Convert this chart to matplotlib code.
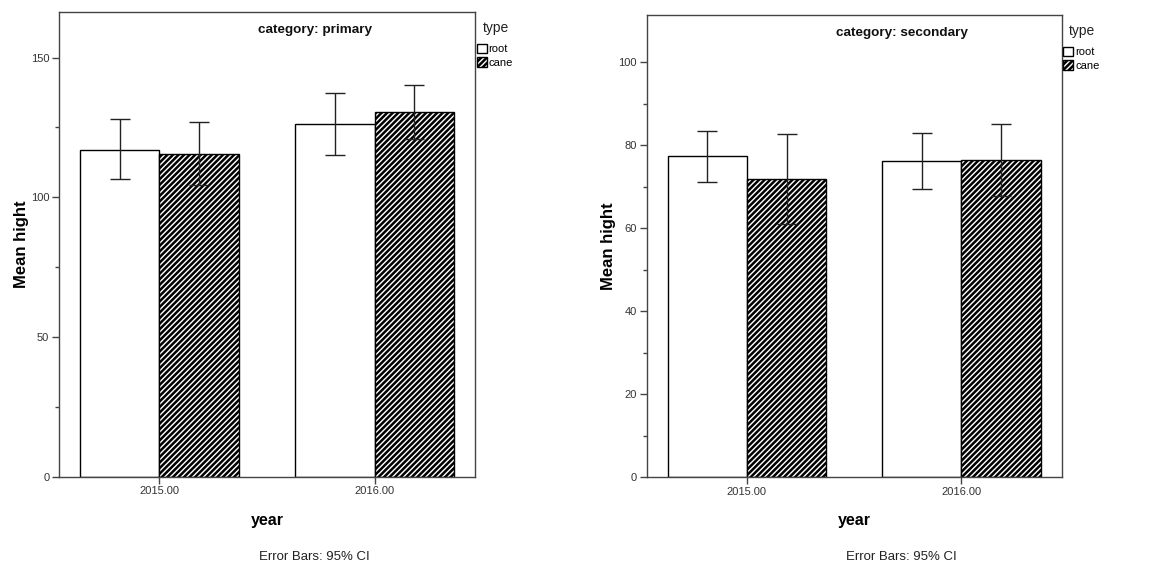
import matplotlib
matplotlib.use("Agg")
import matplotlib.pyplot as plt
import numpy as np

plt.rcParams['font.family'] = ['Liberation Sans', 'DejaVu Sans']
plt.rcParams['hatch.linewidth'] = 1.8
plt.rcParams['hatch.color'] = 'black'

years = ["2015.00", "2016.00"]
types = ["root", "cane"]
panels = ["primary", "secondary"]

# primary
primary_root = [117.0, 126.2]
primary_root_lo = [106.4, 115.1]
primary_root_hi = [127.9, 137.2]
primary_cane = [115.6, 130.6]
primary_cane_lo = [104.3, 120.9]
primary_cane_hi = [126.9, 140.3]

# secondary
secondary_root = [77.3, 76.1]
secondary_root_lo = [71.1, 69.5]
secondary_root_hi = [83.5, 82.9]
secondary_cane = [71.9, 76.4]
secondary_cane_lo = [61.1, 67.8]
secondary_cane_hi = [82.7, 85.1]

ylims = [166.3, 111.3]
major_ticks = [[0, 50, 100, 150], [0, 20, 40, 60, 80, 100]]
minor_ticks = [[25, 75, 125], [10, 30, 50, 70, 90]]

data = {
    "primary": (primary_root, primary_root_lo, primary_root_hi,
                primary_cane, primary_cane_lo, primary_cane_hi),
    "secondary": (secondary_root, secondary_root_lo, secondary_root_hi,
                  secondary_cane, secondary_cane_lo, secondary_cane_hi),
}

W, H = 1158, 565
fig = plt.figure(figsize=(W / 100, H / 100), dpi=100)

axes_px = [(59, 12, 475, 476.7), (646.7, 15.3, 1061.7, 477.3)]
year_x = [267, 854]
note_x = [314.5, 901.7]
spine_col = '#444444'
tick_col = '#333333'

for i, name in enumerate(panels):
    x0, y0, x1, y1 = axes_px[i]
    ax = fig.add_axes([x0 / W, 1 - y1 / H, (x1 - x0) / W, (y1 - y0) / H])
    r, rlo, rhi, c, clo, chi = data[name]
    x = np.arange(len(years))
    w = 0.37
    b1 = ax.bar(x - w / 2, r, w, color='white', edgecolor='black', linewidth=1.0, label=types[0], zorder=2)
    b2 = ax.bar(x + w / 2, c, w, color='white', edgecolor='black', linewidth=1.0, hatch='//////', label=types[1], zorder=2)
    r = np.array(r); c = np.array(c)
    ax.errorbar(x - w / 2, r, yerr=[r - np.array(rlo), np.array(rhi) - r], fmt='none',
                ecolor='#222222', elinewidth=1.0, capsize=7, capthick=1.0, zorder=3)
    ax.errorbar(x + w / 2, c, yerr=[c - np.array(clo), np.array(chi) - c], fmt='none',
                ecolor='#222222', elinewidth=1.0, capsize=7, capthick=1.0, zorder=3)
    ax.set_xlim(-0.467, 1.467)
    ax.set_ylim(0, ylims[i])
    ax.set_xticks(x)
    ax.set_xticklabels(years, fontsize=8, color=tick_col)
    ax.set_yticks(major_ticks[i])
    ax.set_yticklabels([str(t) for t in major_ticks[i]], fontsize=8, color=tick_col)
    ax.set_yticks(minor_ticks[i], minor=True)
    ax.tick_params(axis='both', which='major', direction='out', length=5, width=1, color=spine_col, pad=2)
    ax.tick_params(axis='y', which='minor', direction='out', length=3, width=1, color=spine_col)
    ax.tick_params(top=False, right=False)
    for s in ax.spines.values():
        s.set_color(spine_col)
        s.set_linewidth(1.0)
    ax.text(0.615, 0.962, "category: " + name, transform=ax.transAxes, ha='center', va='center',
            fontsize=9.7, fontweight='bold', color='#111111')
    ax.set_ylabel("Mean hight", fontsize=12, fontweight='bold')
    ax.yaxis.set_label_coords(-0.073, 0.5)
    fig.text(year_x[i] / W, 1 - 520 / H, "year",
             ha='center', va='center', fontsize=11.5, fontweight='bold')
    fig.text(note_x[i] / W, 1 - 557 / H, "Error Bars: 95% CI",
             ha='center', va='center', fontsize=9.5, color='#222222')
    ax.text(1.05, 0.965, "type", transform=ax.transAxes, ha='center', va='center',
            fontsize=10, color='#222222')
    ax.legend(handles=[b1, b2], loc='upper left',
              bbox_to_anchor=(1.004, 0.932), frameon=False, fontsize=8,
              handlelength=0.9, handleheight=0.9,
              handletextpad=0.15, labelspacing=0.3, borderpad=0, borderaxespad=0)

fig.savefig("out.png", dpi=100)
